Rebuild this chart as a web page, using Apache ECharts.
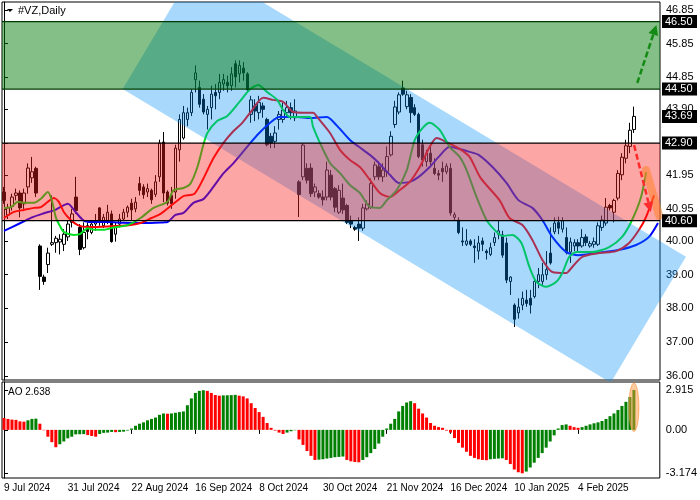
<!DOCTYPE html>
<html><head><meta charset="utf-8">
<script src="https://cdn.jsdelivr.net/npm/echarts@6/dist/echarts.min.js"></script>
<style>html,body{margin:0;padding:0;background:#fff}#c{width:700px;height:500px}</style>
</head><body><div id="c"></div>
<script>
const dates = [
 "9 Jul 2024","10 Jul 2024","11 Jul 2024","12 Jul 2024","15 Jul 2024","16 Jul 2024","17 Jul 2024","18 Jul 2024","19 Jul 2024","22 Jul 2024",
 "23 Jul 2024","24 Jul 2024","25 Jul 2024","26 Jul 2024","29 Jul 2024","30 Jul 2024","31 Jul 2024",
 "1 Aug 2024","2 Aug 2024","5 Aug 2024","6 Aug 2024","7 Aug 2024","8 Aug 2024","9 Aug 2024","12 Aug 2024","13 Aug 2024","14 Aug 2024",
 "15 Aug 2024","16 Aug 2024","19 Aug 2024","20 Aug 2024","21 Aug 2024","22 Aug 2024","23 Aug 2024","26 Aug 2024","27 Aug 2024","28 Aug 2024",
 "29 Aug 2024","30 Aug 2024",
 "3 Sep 2024","4 Sep 2024","5 Sep 2024","6 Sep 2024","9 Sep 2024","10 Sep 2024","11 Sep 2024","12 Sep 2024","13 Sep 2024","16 Sep 2024",
 "17 Sep 2024","18 Sep 2024","19 Sep 2024","20 Sep 2024","23 Sep 2024","24 Sep 2024","25 Sep 2024","26 Sep 2024","27 Sep 2024","30 Sep 2024",
 "1 Oct 2024","2 Oct 2024","3 Oct 2024","4 Oct 2024","7 Oct 2024","8 Oct 2024","9 Oct 2024","10 Oct 2024","11 Oct 2024","14 Oct 2024",
 "15 Oct 2024","16 Oct 2024","17 Oct 2024","18 Oct 2024","21 Oct 2024","22 Oct 2024","23 Oct 2024","24 Oct 2024","25 Oct 2024","28 Oct 2024",
 "29 Oct 2024","30 Oct 2024","31 Oct 2024",
 "1 Nov 2024","4 Nov 2024","5 Nov 2024","6 Nov 2024","7 Nov 2024","8 Nov 2024","11 Nov 2024","12 Nov 2024","13 Nov 2024","14 Nov 2024",
 "15 Nov 2024","18 Nov 2024","19 Nov 2024","20 Nov 2024","21 Nov 2024","22 Nov 2024","25 Nov 2024","26 Nov 2024","27 Nov 2024","29 Nov 2024",
 "2 Dec 2024","3 Dec 2024","4 Dec 2024","5 Dec 2024","6 Dec 2024","9 Dec 2024","10 Dec 2024","11 Dec 2024","12 Dec 2024","13 Dec 2024",
 "16 Dec 2024","17 Dec 2024","18 Dec 2024","19 Dec 2024","20 Dec 2024","23 Dec 2024","24 Dec 2024","26 Dec 2024","27 Dec 2024","30 Dec 2024",
 "31 Dec 2024",
 "2 Jan 2025","3 Jan 2025","6 Jan 2025","7 Jan 2025","8 Jan 2025","10 Jan 2025","13 Jan 2025","14 Jan 2025","15 Jan 2025","16 Jan 2025",
 "17 Jan 2025","21 Jan 2025","22 Jan 2025","23 Jan 2025","24 Jan 2025","27 Jan 2025","28 Jan 2025","29 Jan 2025","30 Jan 2025","31 Jan 2025",
 "3 Feb 2025","4 Feb 2025","5 Feb 2025","6 Feb 2025","7 Feb 2025","10 Feb 2025","11 Feb 2025","12 Feb 2025","13 Feb 2025","14 Feb 2025",
 "18 Feb 2025","19 Feb 2025","20 Feb 2025","21 Feb 2025","24 Feb 2025","25 Feb 2025"
];
const futureSlots = ["","","","","",""];

const opens = [41.45,40.77,41.02,41.35,41.42,41.1,41.6,41.87,42.15,39.85,38.93,39.3,39.9,39.95,39.97,39.9,40.12,40.55,41.3,40.4,
 39.8,40.45,40.25,40.5,40.98,40.45,40.58,40.8,40.2,40.5,40.65,40.85,41.12,40.95,41.7,41.6,41.45,41.5,41.38,41.9,
 42.93,41.45,41.35,41.45,42.7,43.05,43.6,43.8,44.78,44.55,44.2,43.75,43.95,44.4,44.4,44.65,44.7,44.6,45.25,44.95,
 45.12,44.95,43.75,44.0,43.8,44.0,43.6,43.1,42.95,43.6,43.6,43.8,43.95,43.65,41.75,41.9,42.15,42.16,41.45,41.4,
 41.3,41.3,41.95,41.55,40.85,41.27,41.05,40.6,40.4,40.5,40.38,40.95,41.0,41.9,42.2,41.9,42.05,42.55,43.45,43.82,
 44.53,43.98,44.25,43.95,43.75,42.85,42.35,42.6,42.15,42.0,42.15,42.05,42.15,40.7,40.62,40.0,39.9,40.0,39.85,39.7,
 40.0,39.7,39.6,39.95,40.2,40.18,39.94,38.8,38.1,37.87,38.1,38.25,38.3,38.35,38.8,38.8,39.0,39.64,40.27,40.55,
 40.35,40.1,39.67,39.85,39.95,39.85,40.12,39.85,39.9,39.9,40.4,40.53,41.05,40.85,41.27,41.96,42.45,42.8,43.3];
const highs = [41.6,41.1,41.4,41.55,41.5,41.55,42.3,42.49,42.2,39.9,39.0,39.8,41.35,40.15,40.2,40.35,40.62,40.95,41.9,40.5,
 40.55,40.55,40.6,40.8,41.0,40.8,41.07,40.9,40.55,40.8,40.95,41.05,41.25,41.3,41.9,41.68,41.7,41.55,41.95,43.0,
 43.23,41.5,41.6,42.85,43.75,44.0,43.95,44.5,45.2,44.75,44.35,44.0,44.6,44.65,44.95,44.95,44.9,45.15,45.35,45.35,
 45.3,45.0,44.3,44.2,44.3,44.1,43.65,43.2,43.4,43.85,44.1,44.15,44.1,44.2,41.8,42.9,42.3,42.3,41.7,41.5,
 41.5,42.35,42.1,41.6,41.65,41.7,41.1,40.75,40.45,40.7,41.1,41.2,41.85,42.35,42.35,42.3,42.8,43.25,44.15,44.4,
 44.75,44.45,44.35,44.05,43.8,43.0,42.7,42.8,42.45,42.1,42.35,42.3,42.3,40.85,40.7,40.4,40.35,40.05,40.05,40.15,
 40.1,39.75,39.95,40.25,40.6,40.3,40.1,38.95,38.15,38.3,38.5,38.55,38.55,38.9,39.2,39.35,39.7,40.4,40.7,40.72,
 40.7,40.4,40.1,40.05,40.05,40.35,40.2,40.0,40.1,40.55,40.75,41.27,41.1,41.25,42.1,42.6,43.0,43.5,43.98];
const lows = [41.1,40.65,40.9,41.2,40.7,40.95,41.4,41.72,41.3,38.55,38.7,39.05,39.85,39.65,39.6,39.7,40.0,40.4,40.8,39.58,
 39.75,40.05,40.2,40.3,40.45,40.38,40.5,39.95,39.98,40.4,40.6,40.7,40.6,40.85,41.35,41.25,41.3,41.1,41.3,41.75,
 41.15,41.05,40.95,41.25,42.35,43.0,43.4,43.7,44.4,43.95,43.75,43.3,43.6,43.9,44.2,44.45,44.4,44.45,44.55,44.7,
 44.75,44.4,43.5,43.55,43.6,43.65,42.8,42.75,42.75,43.3,43.5,43.7,43.6,43.55,40.71,41.8,41.7,41.3,41.3,41.25,
 41.05,41.2,41.2,40.85,40.8,40.8,40.5,40.38,40.3,40.0,40.3,40.9,40.95,41.8,41.8,41.75,41.9,42.5,43.35,43.75,
 44.3,43.9,43.5,43.7,42.45,42.2,42.2,42.25,41.95,41.8,41.75,41.98,40.75,40.6,40.2,39.85,39.85,39.85,39.35,39.45,
 39.7,39.45,39.55,39.85,40.05,39.5,38.75,38.4,37.45,37.7,37.95,38.05,37.85,38.3,38.6,38.7,38.85,39.3,40.2,40.2,
 40.25,39.6,39.35,39.7,39.7,39.8,39.85,39.8,39.8,39.85,40.3,40.45,40.9,40.55,41.2,41.8,42.3,42.6,43.2];
const closes = [41.2,40.98,41.3,41.42,40.98,41.42,42.16,42.05,41.42,38.95,38.8,39.64,39.95,40.08,40.05,40.2,40.5,40.8,40.9,39.75,
 40.25,40.28,40.5,40.55,40.62,40.7,40.85,39.98,40.45,40.65,40.85,41.0,40.92,41.15,41.5,41.37,41.55,41.22,41.75,42.9,
 41.42,41.12,41.1,42.75,43.6,43.8,43.8,44.4,44.98,44.05,43.82,43.9,44.35,44.3,44.7,44.78,44.6,44.95,44.86,45.2,
 44.98,44.48,44.18,43.85,44.1,43.9,42.85,42.9,43.2,43.75,43.88,43.95,43.8,43.85,41.38,42.84,41.8,41.4,41.6,41.3,
 41.22,42.1,41.3,41.0,41.5,40.92,40.55,40.5,40.35,40.38,40.98,41.1,41.7,42.25,41.9,42.1,42.5,43.1,43.97,44.33,
 44.35,44.33,43.8,43.75,42.5,42.4,42.6,42.35,42.0,41.95,42.05,42.22,40.83,40.78,40.25,39.97,40.0,39.9,39.8,39.94,
 39.9,39.65,39.8,40.1,40.3,39.58,38.84,38.93,37.68,38.04,38.3,38.15,38.1,38.8,39.0,39.0,39.15,39.35,40.53,40.38,
 40.6,39.65,39.97,39.95,39.85,40.1,39.95,39.92,39.98,40.45,40.62,41.0,40.98,41.2,42.0,42.48,42.82,43.28,43.69];

// Alligator lines: [bar index, price]
const jawPts = [[0,40.30],[2,40.41],[5,40.58],[7,40.7],[10,40.82],[13,40.93],[16,41.1],[18,40.85],[20,40.6],[22,40.56],[26,40.56],[30,40.54],[35,40.53],[40,40.55],[41,40.56],[43,40.77],[45,40.83],[47.5,41.13],[50,41.24],[52.5,41.6],[55,42.0],[57.5,42.3],[61.75,42.9],[64,43.2],[66.75,43.5],[69,43.67],[73.5,43.67],[76.75,43.64],[81,43.67],[82,43.6],[84,43.35],[86.75,42.99],[89,42.79],[91.75,42.55],[94,42.31],[96.75,41.96],[99,41.72],[101.75,41.75],[104,41.9],[106.75,42.19],[109,42.49],[111.75,42.79],[114,42.73],[116.75,42.64],[119,42.55],[122.5,42.19],[126,41.72],[129,41.21],[132.5,40.98],[135,40.62],[137.5,40.12],[141,39.67],[144,39.58],[149,39.65],[154,39.73],[158.5,39.88],[161.75,40.12],[164,40.53]];
const teethPts = [[0,40.68],[2.5,40.86],[5,40.92],[7.5,40.98],[9.25,41.0],[11,41.16],[12.5,41.27],[13.75,41.16],[15,40.86],[16.75,40.62],[18.5,40.47],[21,40.41],[26,40.43],[28.5,40.44],[31.75,40.47],[34.25,40.53],[37,40.68],[39.25,40.8],[43.5,41.2],[45,41.33],[47.75,41.4],[50,41.85],[52.5,42.45],[55,42.9],[57.5,43.25],[59.75,43.5],[61.75,43.8],[65,44.24],[67.5,44.18],[70,44.12],[72.5,43.82],[75,43.8],[77.5,43.8],[78.75,43.64],[81.75,43.2],[84.25,42.7],[86.75,42.4],[89.25,42.19],[91.75,41.81],[94.25,41.42],[96.75,41.3],[99.25,41.51],[101.75,41.75],[104.25,42.19],[106.75,42.79],[108.5,43.05],[111,42.93],[114.25,42.73],[116.75,42.49],[119.5,41.87],[124.25,41.21],[126.75,40.68],[130,40.47],[132.5,40.03],[135,39.44],[137.5,39.08],[141,39.05],[142.5,39.23],[145,39.53],[149.25,39.64],[153.5,39.7],[156.75,39.94],[159.25,40.33],[161,40.71],[163,41.35]];
const lipsPts = [[0,40.98],[1.75,41.0],[3.5,41.16],[5,41.13],[7.5,41.13],[9.25,41.25],[11,41.45],[12,41.2],[13,40.7],[14,40.45],[15,40.27],[17.5,40.18],[19,40.2],[21,40.38],[22.5,40.33],[25,40.33],[27.5,40.4],[31,40.47],[34.25,40.68],[37.5,40.98],[41,41.16],[42.5,41.5],[45,41.57],[46.75,41.7],[48.5,42.19],[50,42.85],[51,43.2],[53.5,43.56],[56,43.7],[59.25,44.15],[61.75,44.5],[63.75,44.62],[66,44.41],[68.5,44.18],[70,43.88],[71.75,43.67],[76.75,43.67],[77.5,43.38],[79.25,42.9],[81.75,42.31],[84.25,42.01],[86.75,41.66],[89.25,41.42],[91.75,41.01],[94.25,40.98],[96,41.21],[98.5,41.51],[101,42.1],[103,42.99],[105,43.35],[106.75,43.5],[109.25,43.29],[111.75,42.79],[114.25,42.49],[116,42.1],[118.5,41.3],[121,40.62],[123.5,40.27],[125,40.15],[127.5,40.18],[129.75,39.94],[131.75,39.23],[133.5,38.79],[136,38.64],[138.5,38.79],[140,39.05],[141.75,39.53],[143.5,39.67],[147.5,39.67],[151.75,39.82],[155,40.12],[157.5,40.62],[159.75,41.3],[161,42.04]];

const aoValues = [0.87,0.80,0.75,0.73,0.62,0.60,0.70,0.80,0.82,0.45,
 -0.03,-0.5,-0.9,-1.27,-1.05,-0.85,-0.62,-0.5,-0.33,-0.32,
 -0.31,-0.38,-0.45,-0.5,-0.3,-0.22,-0.2,-0.15,-0.17,-0.15,
 -0.13,-0.05,0.1,0.3,0.45,0.55,0.7,0.8,0.9,1.1,
 1.2,1.18,1.2,1.25,1.3,1.35,1.8,2.3,2.7,2.85,
 2.9,2.85,2.7,2.55,2.5,2.52,2.53,2.54,2.56,2.5,
 2.45,2.3,1.95,1.6,1.3,0.95,0.5,0.15,-0.05,-0.2,
 -0.3,-0.2,-0.1,-0.03,-0.7,-1.1,-1.55,-1.9,-2.2,-2.18,
 -2.15,-2.1,-2.05,-2.0,-1.98,-1.95,-2.2,-2.3,-2.35,-2.37,
 -2.2,-2.0,-1.7,-1.4,-1.0,-0.5,0.1,0.45,0.8,1.35,
 1.75,2.0,2.1,1.95,1.55,1.2,0.9,0.5,0.3,0.2,
 0.15,-0.05,-0.2,-0.6,-0.95,-1.3,-1.6,-1.9,-2.05,-2.15,
 -2.2,-2.22,-2.15,-2.12,-2.1,-2.08,-2.2,-2.5,-2.9,-3.1,
 -3.174,-3.05,-2.75,-2.4,-2.05,-1.7,-1.3,-0.85,-0.4,0.1,
 0.35,0.4,0.3,0.2,0.15,0.2,0.3,0.4,0.48,0.55,
 0.65,0.8,1.0,1.2,1.45,1.75,2.05,2.4,2.915];
const aoLabelValue = 2.638;

const priceTicks = [36.00,37.00,38.00,39.00,40.00,40.95,41.95,42.90,43.90,44.85,45.85,46.85];
const aoTicks = [-3.174,0,2.915];
const greenZone = [44.50,46.50];
const redZone = [40.60,42.90];
const lastPrice = 43.69;
const boxLevels = [46.50,44.50,lastPrice,42.90,40.60];
const channel = [[29.75,44.50],[48.6,48.23],[171,39.53],[152.15,35.80]];
const greenArrow = [[158.8,44.68],[163.6,46.40]];
const redArrow = [[158,42.84],[162.2,40.86]];
const orangeStroke = [[161,42.10],[164.3,40.75]];
const aoHighlight = [3.42,-0.12];

const FONT = 'Liberation Sans, Arial, sans-serif';
const cats = dates.concat(futureSlots);
const N = cats.length;
const candleData = opens.map((o,i)=>[o, closes[i], lows[i], highs[i]]);

function clipY(pts, y0, y1){
  const clip=(ps, inside, inter)=>{
    const out=[];
    for(let i=0;i<ps.length;i++){
      const cur=ps[i], prev=ps[(i+ps.length-1)%ps.length];
      const ci=inside(cur), pi=inside(prev);
      if(ci){ if(!pi) out.push(inter(prev,cur)); out.push(cur); }
      else if(pi) out.push(inter(prev,cur));
    }
    return out;
  };
  const atY=y=>(a,b)=>[a[0]+(b[0]-a[0])*(y-a[1])/(b[1]-a[1]), y];
  let r=clip(pts,p=>p[1]>=y0,atY(y0));
  r=clip(r,p=>p[1]<=y1,atY(y1));
  return r;
}
function arrowEls(api,a,b,color,width,dash){
  const p1=api.coord(a), p2=api.coord(b);
  const dx=p2[0]-p1[0], dy=p2[1]-p1[1], L=Math.hypot(dx,dy), ux=dx/L, uy=dy/L;
  const hl=10, hw=5;
  const base=[p2[0]-ux*hl, p2[1]-uy*hl];
  return [
    {type:'line', shape:{x1:p1[0],y1:p1[1],x2:base[0],y2:base[1]}, style:{stroke:color,lineWidth:width,lineDash:dash}},
    {type:'polygon', shape:{points:[p2,[base[0]-uy*hw,base[1]+ux*hw],[base[0]+uy*hw,base[1]-ux*hw]]}, style:{fill:color}}
  ];
}
const labelInterval=(idx,val)=>idx%16===0 && val!=='';

const chart = echarts.init(document.getElementById('c'), null, {renderer:'canvas'});
chart.setOption({
  animation:false,
  backgroundColor:'#fff',
  textStyle:{fontFamily:FONT},
  grid:[
    {left:2,right:40,top:2,height:378,show:true,borderColor:'#000',borderWidth:1,backgroundColor:'transparent'},
    {left:2,right:40,top:382,height:96,show:true,borderColor:'#000',borderWidth:1,backgroundColor:'transparent'}
  ],
  xAxis:[
    {type:'category',gridIndex:0,data:cats,axisLine:{show:false},axisTick:{show:false},axisLabel:{show:false},splitLine:{show:false}},
    {type:'value',gridIndex:0,min:-0.5,max:N-0.5,show:false},
    {type:'category',gridIndex:1,data:cats,axisLine:{show:false},
      axisTick:{show:true,interval:labelInterval,alignWithLabel:true,length:4,lineStyle:{color:'#000'}},
      axisLabel:{interval:labelInterval,align:'left',fontSize:10,color:'#000',margin:5,fontFamily:FONT},splitLine:{show:false}},
    {type:'value',gridIndex:1,min:-0.5,max:N-0.5,show:false}
  ],
  yAxis:[
    {type:'value',gridIndex:0,position:'right',min:35.88,max:47.08,splitLine:{show:false},
      axisLine:{show:true,lineStyle:{color:'#000'}},
      axisTick:{show:true,length:4,customValues:priceTicks,lineStyle:{color:'#000'}},
      axisLabel:{customValues:priceTicks,formatter:v=>Number(v).toFixed(2),fontSize:11,color:'#000',margin:6,fontFamily:FONT}},
    {type:'value',gridIndex:1,position:'right',min:-3.52,max:3.5,splitLine:{show:false},
      axisLine:{show:true,lineStyle:{color:'#000'}},
      axisTick:{show:true,length:4,customValues:aoTicks,lineStyle:{color:'#000'}},
      axisLabel:{customValues:aoTicks,formatter:v=>Number(v)===0?'0.00':Number(v).toFixed(3),fontSize:11,color:'#000',margin:6,fontFamily:FONT}}
  ],
  series:[
    {type:'candlestick',xAxisIndex:0,yAxisIndex:0,data:candleData,barWidth:3,z:2,silent:true,
      itemStyle:{color:'#ffffff',color0:'#000000',borderColor:'#000000',borderColor0:'#000000',borderWidth:1}},
    {type:'line',xAxisIndex:1,yAxisIndex:0,data:jawPts,showSymbol:false,smooth:0.25,z:3,silent:true,lineStyle:{color:'#0000ff',width:2}},
    {type:'line',xAxisIndex:1,yAxisIndex:0,data:teethPts,showSymbol:false,smooth:0.25,z:3,silent:true,lineStyle:{color:'#ff0000',width:2}},
    {type:'line',xAxisIndex:1,yAxisIndex:0,data:lipsPts,showSymbol:false,smooth:0.25,z:3,silent:true,lineStyle:{color:'#00e020',width:2}},
    {type:'custom',xAxisIndex:1,yAxisIndex:0,z:5,silent:true,data:[[0,40]],
      renderItem:(params,api)=>{
        const cs=params.coordSys;
        const pts=clipY(channel.map(p=>api.coord(p)),cs.y,cs.y+cs.height+1);
        return {type:'polygon',shape:{points:pts},style:{fill:'rgba(0,144,246,0.34)'}};
      }},
    {type:'custom',xAxisIndex:1,yAxisIndex:0,z:6,silent:true,data:[[greenZone[0],greenZone[1],0],[redZone[0],redZone[1],1]],
      renderItem:(params,api)=>{
        const cs=params.coordSys;
        const lo=api.value(0), hi=api.value(1), k=api.value(2);
        const yTop=api.coord([0,hi])[1], yBot=api.coord([0,lo])[1];
        const fill=k===0?'rgba(0,122,7,0.48)':'rgba(250,32,32,0.4)';
        const edge=k===0?'#003a00':'#000000';
        return {type:'group',children:[
          {type:'rect',shape:{x:cs.x,y:yTop,width:cs.width,height:yBot-yTop},style:{fill:fill}},
          {type:'line',shape:{x1:cs.x,y1:yTop,x2:cs.x+cs.width,y2:yTop},style:{stroke:edge,lineWidth:1.3}},
          {type:'line',shape:{x1:cs.x,y1:yBot,x2:cs.x+cs.width,y2:yBot},style:{stroke:edge,lineWidth:1.3}}
        ]};
      }},
    {type:'custom',xAxisIndex:1,yAxisIndex:0,z:8,silent:true,data:[[0,40]],
      renderItem:(params,api)=>{
        const o1=api.coord(orangeStroke[0]), o2=api.coord(orangeStroke[1]);
        return {type:'group',children:[
          {type:'line',shape:{x1:o1[0],y1:o1[1],x2:o2[0],y2:o2[1]},style:{stroke:'rgba(255,130,40,0.55)',lineWidth:8,lineCap:'round'}},
          ...arrowEls(api,greenArrow[0],greenArrow[1],'#138a13',2.5,[6,3]),
          ...arrowEls(api,redArrow[0],redArrow[1],'#ff2a2a',2.5,[6,3])
        ]};
      }},
    {type:'custom',xAxisIndex:1,yAxisIndex:0,z:10,silent:true,data:boxLevels.map(v=>[0,v]),
      renderItem:(params,api)=>{
        const cs=params.coordSys;
        const v=api.value(1);
        const y=api.coord([0,v])[1];
        const x=cs.x+cs.width+2;
        return {type:'group',children:[
          {type:'rect',shape:{x:x,y:y-6.5,width:35,height:13},style:{fill:'#000'}},
          {type:'text',style:{text:v.toFixed(2),x:x+3,y:y,verticalAlign:'middle',fill:'#fff',font:'11px '+FONT}}
        ]};
      }},
    {type:'bar',xAxisIndex:2,yAxisIndex:1,data:aoValues,barWidth:3,z:2,silent:true,
      itemStyle:{color:p=>(p.dataIndex>0 && aoValues[p.dataIndex]>aoValues[p.dataIndex-1])?'#008000':'#ff0000'}},
    {type:'custom',xAxisIndex:3,yAxisIndex:1,z:8,silent:true,data:[[opens.length-1,aoHighlight[0],aoHighlight[1]]],
      renderItem:(params,api)=>{
        const t=api.coord([api.value(0),api.value(1)]);
        const b=api.coord([api.value(0),api.value(2)]);
        return {type:'ellipse',shape:{cx:t[0],cy:(t[1]+b[1])/2,rx:5,ry:(b[1]-t[1])/2},style:{fill:'rgba(255,150,60,0.5)',stroke:'rgba(255,140,50,0.6)',lineWidth:1}};
      }}
  ],
  graphic:[
    {type:'polygon',shape:{points:[[7,9],[13,9],[10,12]]},style:{fill:'#000'},z:20},
    {type:'text',x:18,y:11,style:{text:'#VZ,Daily',verticalAlign:'middle',fill:'#000',font:'11px '+FONT},z:20},
    {type:'text',x:8,y:392,style:{text:'AO '+aoLabelValue.toFixed(3),verticalAlign:'middle',fill:'#000',font:'10px '+FONT},z:20}
  ]
});
</script>
</body></html>
